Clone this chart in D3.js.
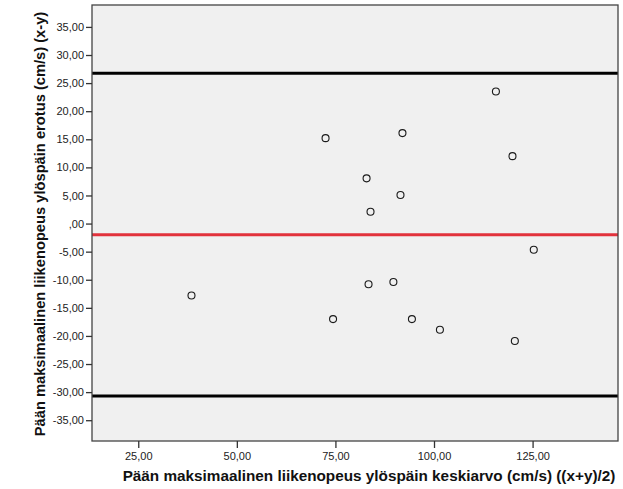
<!DOCTYPE html>
<html>
<head>
<meta charset="utf-8">
<script src="https://cdn.jsdelivr.net/npm/d3@7"></script>
<style>
  body { margin: 0; background: #fff; }
  svg text { font-family: "Liberation Sans", Arial, sans-serif; }
</style>
</head>
<body>
<svg id="mysvg"></svg>
<script>
const w = 623, h = 489;

// mean of the two measurements (x+y)/2 and their difference (x-y)
const meanValues = [72.5, 92.0, 82.9, 91.5, 83.9, 38.5, 83.4, 89.7, 74.4, 94.4, 125.3, 101.5, 120.5, 115.7, 119.9];
const diffValues = [15.2, 16.1, 8.05, 5.08, 2.1, -12.8, -10.8, -10.4, -17.0, -17.0, -4.67, -18.9, -20.9, 23.5, 12.0];

const xTicks = [25, 50, 75, 100, 125];
const yTicks = [35, 30, 25, 20, 15, 10, 5, 0, -5, -10, -15, -20, -25, -30, -35];

const meanDiff = -2.0;
const upperLimit = 26.75;
const lowerLimit = -30.7;

const plotLeft = 92, plotRight = 618, plotTop = 5, plotBottom = 441;

const fmt = v => {
    let s = d3.format(".2f")(Math.abs(v)).replace(".", ",");
    if (s.startsWith("0,")) s = s.slice(1);
    return (v < 0 ? "-" : "") + s;
};

const xScale = d3.scaleLinear()
    .domain([13.27, 146.66])
    .range([plotLeft, plotRight]);

const yScale = d3.scaleLinear()
    .domain([-38.7, 38.9])
    .range([plotBottom, plotTop]);

const svg = d3.select("#mysvg")
    .attr("width", w)
    .attr("height", h);

svg.append("rect")
    .attr("x", plotLeft)
    .attr("y", plotTop)
    .attr("width", plotRight - plotLeft)
    .attr("height", plotBottom - plotTop)
    .attr("fill", "#f0f0f0");

// reference lines
svg.append("line")
    .attr("x1", plotLeft).attr("x2", plotRight)
    .attr("y1", yScale(meanDiff)).attr("y2", yScale(meanDiff))
    .attr("stroke", "#e2323c")
    .attr("stroke-width", 3);

[upperLimit, lowerLimit].forEach(v => {
    svg.append("line")
        .attr("x1", plotLeft).attr("x2", plotRight)
        .attr("y1", yScale(v)).attr("y2", yScale(v))
        .attr("stroke", "#000")
        .attr("stroke-width", 3);
});

svg.selectAll(".dot")
    .data(meanValues)
    .enter().append("circle")
    .attr("class", "dot")
    .attr("cx", d => xScale(d))
    .attr("cy", (d, i) => yScale(diffValues[i]))
    .attr("r", 3.5)
    .attr("fill", "none")
    .attr("stroke", "#1a1a1a")
    .attr("stroke-width", 1.1);

// frame
svg.append("rect")
    .attr("x", plotLeft)
    .attr("y", plotTop)
    .attr("width", plotRight - plotLeft)
    .attr("height", plotBottom - plotTop)
    .attr("fill", "none")
    .attr("stroke", "#444")
    .attr("stroke-width", 1.3);

// X axis
const xAxis = svg.append("g")
    .attr("transform", "translate(0," + plotBottom + ")")
    .call(d3.axisBottom(xScale).tickValues(xTicks).tickFormat(fmt).tickSize(7).tickPadding(4));
xAxis.select(".domain").remove();
xAxis.selectAll("line").attr("stroke", "#333").attr("stroke-width", 1.3);
xAxis.selectAll("text").attr("font-size", 11).attr("fill", "#222");

// Y axis
const yAxis = svg.append("g")
    .attr("transform", "translate(" + plotLeft + ",0)")
    .call(d3.axisLeft(yScale).tickValues(yTicks).tickFormat(fmt).tickSize(6).tickPadding(2));
yAxis.select(".domain").remove();
yAxis.selectAll("line").attr("stroke", "#333").attr("stroke-width", 1.3);
yAxis.selectAll("text").attr("font-size", 11).attr("fill", "#222");

svg.append("text")
    .attr("x", 369)
    .attr("y", 481)
    .attr("text-anchor", "middle")
    .attr("font-size", 15.3)
    .attr("font-weight", "bold")
    .attr("fill", "#111")
    .text("Pään maksimaalinen liikenopeus ylöspäin keskiarvo (cm/s) ((x+y)/2)");

svg.append("text")
    .attr("transform", "translate(45,224) rotate(-90)")
    .attr("text-anchor", "middle")
    .attr("font-size", 14.7)
    .attr("font-weight", "bold")
    .attr("fill", "#111")
    .text("Pään maksimaalinen liikenopeus ylöspäin erotus (cm/s) (x-y)");
</script>
</body>
</html>
